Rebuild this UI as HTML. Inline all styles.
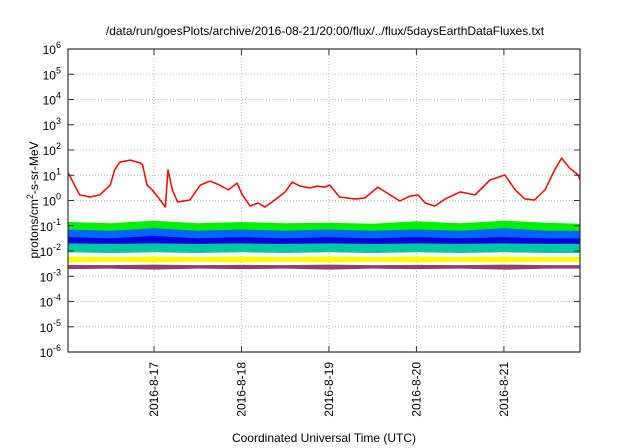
<!DOCTYPE html>
<html><head><meta charset="utf-8"><style>
body{margin:0;background:#fff;}
svg{display:block;font-family:"Liberation Sans",sans-serif;}
</style></head><body>
<svg id="chart" width="640" height="448">
<text x="325" y="35" text-anchor="middle" font-size="12">/data/run/goesPlots/archive/2016-08-21/20:00/flux/../flux/5daysEarthDataFluxes.txt</text>
<text transform="translate(38,200) rotate(-90)" text-anchor="middle" font-size="12">protons/cm<tspan dy="-5" font-size="9">2</tspan><tspan dy="5">-s-sr-MeV</tspan></text>
<text x="324" y="442" text-anchor="middle" font-size="12">Coordinated Universal Time (UTC)</text>
<g id="grid"></g><g id="series"></g><g id="axes"></g>
</svg>
<script>
const xTickDays=[17,18,19,20,21];
const xTickLabels=["2016-8-17","2016-8-18","2016-8-19","2016-8-20","2016-8-21"];
const yTickExps=[-6,-5,-4,-3,-2,-1,0,1,2,3,4,5,6];
const redT=[16.02,16.15,16.27,16.38,16.50,16.55,16.61,16.73,16.84,16.87,16.92,16.98,17.07,17.13,17.16,17.21,17.27,17.41,17.53,17.64,17.75,17.85,17.95,18.01,18.10,18.19,18.27,18.38,18.50,18.58,18.67,18.78,18.87,18.95,19.01,19.12,19.30,19.41,19.56,19.70,19.81,19.93,20.02,20.10,20.21,20.33,20.50,20.67,20.84,21.01,21.13,21.24,21.35,21.47,21.58,21.66,21.75,21.85,21.87];
const redLog=[1.09,0.22,0.14,0.22,0.61,1.21,1.52,1.6,1.49,1.41,0.61,0.42,0.02,-0.26,1.21,0.42,-0.06,0.02,0.61,0.77,0.61,0.42,0.69,0.22,-0.22,-0.1,-0.26,0.02,0.34,0.73,0.57,0.5,0.57,0.53,0.61,0.14,0.06,0.1,0.53,0.22,-0.02,0.18,0.22,-0.1,-0.22,0.06,0.34,0.22,0.81,1.01,0.42,0.06,0.02,0.42,1.21,1.68,1.29,1.01,0.81];
const bandT=[16.02,16.5,17.0,17.5,18.0,18.5,19.0,19.5,20.0,20.5,21.0,21.5,21.87];
const greenHi=[-0.85,-0.9,-0.8,-0.9,-0.85,-0.9,-0.88,-0.92,-0.82,-0.9,-0.8,-0.88,-0.92];
const greenLo=[-1.4,-1.4,-1.35,-1.4,-1.35,-1.4,-1.35,-1.4,-1.35,-1.4,-1.35,-1.4,-1.4];
const blueHi=[-1.15,-1.2,-1.1,-1.2,-1.15,-1.2,-1.15,-1.2,-1.15,-1.2,-1.1,-1.2,-1.2];
const blueLo=[-1.85,-1.8,-1.85,-1.8,-1.9,-1.8,-1.85,-1.8,-1.85,-1.8,-1.85,-1.8,-1.8];
const navyHi=[-1.45,-1.5,-1.4,-1.5,-1.45,-1.5,-1.45,-1.5,-1.45,-1.5,-1.45,-1.5,-1.5];
const navyLo=[-1.95,-2.0,-1.9,-2.0,-1.95,-2.0,-1.95,-2.0,-1.95,-2.0,-1.95,-2.0,-2.0];
const tealHi=[-1.7,-1.72,-1.7,-1.72,-1.7,-1.72,-1.7,-1.72,-1.7,-1.72,-1.7,-1.72,-1.72];
const tealLo=[-2.05,-2.08,-2.05,-2.08,-2.05,-2.08,-2.05,-2.08,-2.05,-2.08,-2.05,-2.08,-2.08];
const yellowHi=[-2.22,-2.24,-2.22,-2.24,-2.22,-2.24,-2.22,-2.24,-2.22,-2.24,-2.22,-2.24,-2.24];
const yellowLo=[-2.45,-2.43,-2.45,-2.43,-2.45,-2.43,-2.45,-2.43,-2.45,-2.43,-2.45,-2.43,-2.43];
const purpleHi=[-2.55,-2.56,-2.54,-2.56,-2.55,-2.56,-2.54,-2.56,-2.55,-2.56,-2.54,-2.56,-2.56];
const purpleLo=[-2.72,-2.7,-2.74,-2.7,-2.72,-2.7,-2.74,-2.7,-2.72,-2.7,-2.74,-2.7,-2.7];

const L=68,R=580,T=49,B=352,t0=16.017,t1=21.87,e0=-6,e1=6;
function X(t){return L+(t-t0)/(t1-t0)*(R-L);}
function Y(e){return B-(e-e0)/(e1-e0)*(B-T);}
const NS="http://www.w3.org/2000/svg";
function mk(tag,parent,attrs){const el=document.createElementNS(NS,tag);for(const k in attrs)el.setAttribute(k,attrs[k]);parent.appendChild(el);return el;}
const grid=document.getElementById('grid'),ser=document.getElementById('series'),ax=document.getElementById('axes');
yTickExps.forEach(e=>{
  if(e>e0&&e<e1){const g=mk('line',grid,{x1:L,x2:R,y1:Y(e),y2:Y(e),stroke:'#bbb','stroke-dasharray':'1,2'});
  
  }
  const tk=mk('line',ax,{x1:L,x2:L+6,y1:Y(e),y2:Y(e),stroke:'#333'});
  
  
  const tk2=mk('line',ax,{x1:R-6,x2:R,y1:Y(e),y2:Y(e),stroke:'#333'});
  
  
  const tx=mk('text',ax,{x:61,y:Y(e)+5,'text-anchor':'end','font-size':'12'});
  
  
  tx.innerHTML='10<tspan dy="-6" font-size="9">'+e+'</tspan>';
});
xTickDays.forEach((d,i)=>{
  const g=mk('line',grid,{x1:X(d),x2:X(d),y1:T,y2:B,stroke:'#bbb','stroke-dasharray':'1,2'});
  
  
  const tk=mk('line',ax,{x1:X(d),x2:X(d),y1:B-6,y2:B,stroke:'#333'});
  
  
  const tk2=mk('line',ax,{x1:X(d),x2:X(d),y1:T,y2:T+6,stroke:'#333'});
  
  
  const tx=mk('text',ax,{transform:'translate('+(X(d)+4)+',362) rotate(-90)','text-anchor':'end','font-size':'12'});
  
  
  tx.textContent=xTickLabels[i];
});
const fr=mk('rect',ax,{x:L,y:T,width:R-L,height:B-T,fill:'none',stroke:'#333','stroke-width':'1.2'});


function band(hi,lo,color,name){
  let pts=bandT.map((t,i)=>X(t)+','+Y(hi[i]));
  for(let i=bandT.length-1;i>=0;i--)pts.push(X(bandT[i])+','+Y(lo[i]));
  const p=mk('polygon',ser,{points:pts.join(' '),fill:color});
  
  
}
band(greenHi,greenLo,'#00f000','series-green');
band(blueHi,blueLo,'#0064ff','series-blue');
band(navyHi,navyLo,'#0000e0','series-navy');
band(tealHi,tealLo,'#00c8a0','series-teal');
band(yellowHi,yellowLo,'#ffff00','series-yellow');
band(purpleHi,purpleLo,'#904070','series-purple');
const rl=mk('polyline',ser,{points:redT.map((t,i)=>X(t)+','+Y(redLog[i])).join(' '),fill:'none',stroke:'#ff0000','stroke-width':'1.5','stroke-linejoin':'round'});


</script>
</body></html>
